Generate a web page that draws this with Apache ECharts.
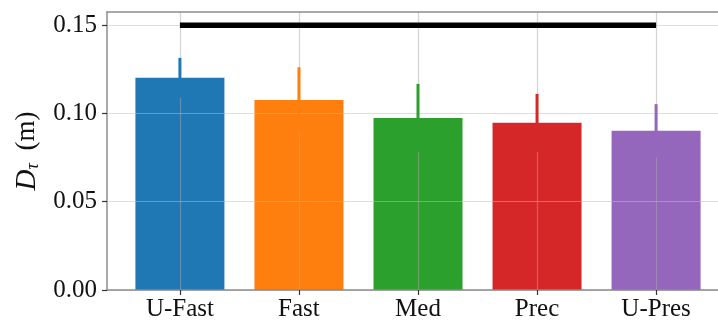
<!DOCTYPE html>
<html>
<head>
<meta charset="utf-8">
<script src="https://cdn.jsdelivr.net/npm/echarts@6/dist/echarts.min.js"></script>
<style>
    html, body { margin: 0; padding: 0; background: #fff; overflow: hidden; }
    #chart1 { width: 740px; height: 326px; }
</style>
</head>
<body>
<div id="chart1"></div>
<script>
// data
var categories = ["U-Fast", "Fast", "Med", "Prec", "U-Pres"];
var means = [0.1202, 0.1077, 0.0975, 0.0947, 0.0902];
var errors = [0.0113, 0.0185, 0.0193, 0.0164, 0.0151];
var colors = ["#1f77b4", "#ff7f0e", "#2ca02c", "#d62728", "#9467bd"];
var yTicks = [0, 0.05, 0.1, 0.15];
var sigLevel = 0.15;
var sigFrom = 0;
var sigTo = 4;

var font = "'Liberation Serif', 'DejaVu Serif', serif";
var spine = { show: true, onZero: false, lineStyle: { color: "#8c8c8c", width: 1.5 } };

// the chart is a bit wider than the window: the right spine falls outside the picture
var mychart = echarts.init(document.getElementById("chart1"));

var barData = means.map(function (v, i) {
    return { value: [i, v], itemStyle: { color: colors[i] } };
});
var errData = means.map(function (v, i) {
    return [i, v - errors[i], v + errors[i]];
});

var option = {
    animation: false,
    grid: {
        left: 107,
        top: 12,
        right: 11,
        bottom: 36,
        outerBoundsMode: 'none',
        containLabel: false
    },
    xAxis: [{
        type: 'value',
        min: -0.6125,
        max: 4.6125,
        z: 3,
        axisLine: spine,
        axisTick: { show: true, length: 5, lineStyle: { color: "#333", width: 1.2 }, customValues: [0, 1, 2, 3, 4] },
        axisLabel: {
            customValues: [0, 1, 2, 3, 4],
            margin: 7,
            color: "#111",
            fontFamily: font,
            fontSize: 25,
            formatter: function (v) { return categories[Math.round(v)]; }
        },
        splitLine: { show: true, lineStyle: { color: "rgba(170,170,170,0.5)", width: 1.2 } }
    }, {
        // top spine only
        type: 'value',
        position: 'top',
        min: -0.6125,
        max: 4.6125,
        z: 3,
        axisLine: spine,
        axisTick: { show: false },
        axisLabel: { show: false },
        splitLine: { show: false }
    }],
    yAxis: {
        type: 'value',
        min: 0,
        max: 0.1575,
        z: 3,
        name: '{it|D}{sub|τ} (m)',
        nameLocation: 'middle',
        nameGap: 65,
        nameTextStyle: {
            color: "#111",
            fontFamily: font,
            fontSize: 27,
            rich: {
                it: { fontFamily: font, fontSize: 29, fontStyle: 'italic', color: "#111" },
                sub: { fontFamily: font, fontSize: 18, fontStyle: 'italic', color: "#111", padding: [12, 6, 0, 0] }
            }
        },
        axisLine: spine,
        axisTick: { show: true, length: 5, lineStyle: { color: "#333", width: 1.2 }, customValues: yTicks },
        axisLabel: {
            customValues: yTicks,
            margin: 10,
            color: "#111",
            fontFamily: font,
            fontSize: 25,
            formatter: function (v) { return v.toFixed(2); }
        },
        splitLine: { show: true, lineStyle: { color: "rgba(190,190,190,0.5)", width: 1.2 } }
    },
    series: [
        {
            type: 'bar',
            barWidth: 89,
            z: 2,
            data: barData
        },
        {
            type: 'custom',
            z: 5,
            data: errData,
            renderItem: function (params, api) {
                var i = api.value(0);
                var lo = api.coord([i, api.value(1)]);
                var hi = api.coord([i, api.value(2)]);
                return {
                    type: 'line',
                    shape: { x1: lo[0], y1: lo[1], x2: hi[0], y2: hi[1] },
                    style: { stroke: colors[i], lineWidth: 3 }
                };
            }
        },
        {
            type: 'line',
            z: 6,
            symbol: 'none',
            data: [[sigFrom, sigLevel], [sigTo, sigLevel]],
            lineStyle: { color: "#000", width: 5.5, cap: 'butt' }
        }
    ]
};
mychart.setOption(option);
</script>
</body>
</html>
